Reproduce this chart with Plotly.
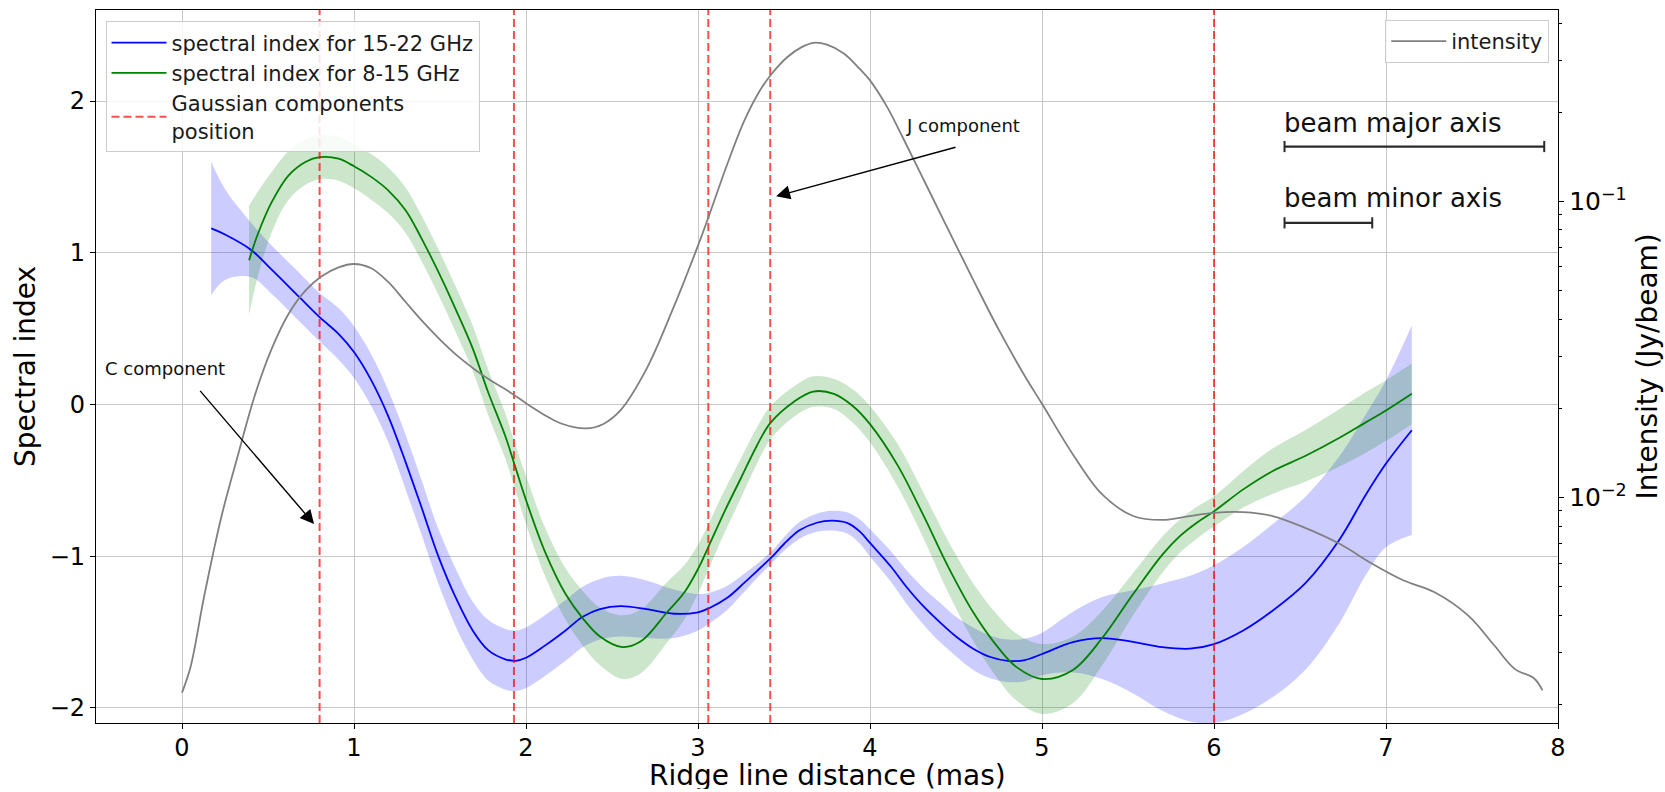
import numpy as np
import plotly.graph_objects as go

# ---------------- data ----------------
x_blue = [0.17, 0.25, 0.40, 0.52, 0.68, 0.80, 0.91, 1.00, 1.10, 1.20, 1.30, 1.39, 1.49, 1.59, 1.69, 1.78,
          1.88, 1.94, 2.00, 2.11, 2.23, 2.33, 2.43, 2.55, 2.70, 2.86, 3.00, 3.07, 3.17, 3.27, 3.36, 3.43,
          3.50, 3.59, 3.69, 3.78, 3.87, 3.94, 4.00, 4.12, 4.21, 4.31, 4.41, 4.50, 4.60, 4.70, 4.80, 4.90,
          5.00, 5.18, 5.35, 5.53, 5.70, 5.86, 6.00, 6.17, 6.34, 6.53, 6.73, 6.88, 7.00, 7.15]
alpha_15_22 = [1.16, 1.12, 1.02, 0.89, 0.71, 0.575, 0.465, 0.345, 0.16, -0.08, -0.38, -0.67, -1.00, -1.27, -1.49, -1.62,
               -1.68, -1.69, -1.67, -1.59, -1.49, -1.40, -1.35, -1.33, -1.35, -1.38, -1.37, -1.34, -1.275, -1.175, -1.08, -1.005,
               -0.92, -0.83, -0.78, -0.766, -0.782, -0.837, -0.913, -1.067, -1.20, -1.33, -1.44, -1.53, -1.61, -1.665, -1.69, -1.685,
               -1.645, -1.567, -1.54, -1.565, -1.60, -1.61, -1.58, -1.49, -1.36, -1.18, -0.89, -0.60, -0.39, -0.17]
err_15_22 = [0.44, 0.30, 0.18, 0.16, 0.16, 0.16, 0.17, 0.17, 0.17, 0.17, 0.18, 0.18, 0.18, 0.19, 0.19, 0.20,
             0.20, 0.20, 0.20, 0.20, 0.20, 0.20, 0.20, 0.20, 0.19, 0.16, 0.12, 0.10, 0.08, 0.06, 0.045, 0.04,
             0.045, 0.055, 0.06, 0.065, 0.07, 0.08, 0.09, 0.10, 0.11, 0.12, 0.13, 0.13, 0.14, 0.14, 0.14, 0.14,
             0.14, 0.20, 0.27, 0.34, 0.42, 0.48, 0.52, 0.55, 0.57, 0.57, 0.55, 0.53, 0.55, 0.69]

x_green = [0.39, 0.44, 0.52, 0.62, 0.72, 0.80, 0.91, 1.00, 1.10, 1.20, 1.30, 1.39, 1.49, 1.59, 1.69, 1.78,
           1.88, 1.94, 2.00, 2.11, 2.23, 2.33, 2.43, 2.56, 2.67, 2.82, 2.92, 3.00, 3.06, 3.15, 3.25, 3.34,
           3.42, 3.56, 3.67, 3.79, 3.90, 4.00, 4.16, 4.31, 4.45, 4.60, 4.75, 4.85, 5.00, 5.18, 5.35, 5.53,
           5.70, 5.80, 5.90, 6.00, 6.17, 6.34, 6.53, 6.73, 6.88, 7.00, 7.15]
alpha_8_15 = [0.95, 1.12, 1.33, 1.51, 1.60, 1.63, 1.62, 1.57, 1.50, 1.41, 1.28, 1.10, 0.875, 0.63, 0.37, 0.08,
              -0.21, -0.42, -0.63, -0.97, -1.25, -1.41, -1.53, -1.60, -1.56, -1.37, -1.24, -1.085, -0.94, -0.716, -0.485, -0.277,
              -0.123, 0.02, 0.085, 0.07, -0.01, -0.13, -0.40, -0.73, -1.06, -1.37, -1.61, -1.73, -1.81, -1.75, -1.54, -1.25,
              -0.99, -0.87, -0.78, -0.705, -0.56, -0.44, -0.34, -0.22, -0.12, -0.04, 0.07]
err_8_15 = [0.36, 0.28, 0.20, 0.16, 0.15, 0.145, 0.145, 0.145, 0.15, 0.15, 0.15, 0.15, 0.15, 0.15, 0.15, 0.15,
            0.15, 0.15, 0.16, 0.16, 0.17, 0.18, 0.19, 0.21, 0.21, 0.20, 0.18, 0.16, 0.15, 0.14, 0.13, 0.12,
            0.11, 0.10, 0.10, 0.10, 0.11, 0.12, 0.14, 0.15, 0.17, 0.19, 0.21, 0.22, 0.23, 0.22, 0.18, 0.14,
            0.12, 0.11, 0.105, 0.10, 0.12, 0.15, 0.17, 0.19, 0.20, 0.20, 0.20]

x_int = [0.00, 0.05, 0.13, 0.23, 0.33, 0.42, 0.52, 0.62, 0.72, 0.81, 0.91, 1.00, 1.10, 1.20, 1.30, 1.40,
         1.50, 1.60, 1.70, 1.80, 1.90, 2.00, 2.10, 2.20, 2.35, 2.45, 2.55, 2.70, 2.85, 3.00, 3.06, 3.17,
         3.27, 3.36, 3.43, 3.52, 3.60, 3.67, 3.75, 3.85, 3.94, 4.00, 4.10, 4.19, 4.31, 4.45, 4.60, 4.75,
         4.90, 5.00, 5.18, 5.35, 5.53, 5.70, 5.86, 6.00, 6.17, 6.34, 6.53, 6.73, 6.92, 7.10, 7.28, 7.48,
         7.63, 7.75, 7.86, 7.91]
intensity = [0.00219, 0.00268, 0.00467, 0.00865, 0.0142, 0.0218, 0.0316, 0.0417, 0.0501, 0.0557, 0.0598, 0.0614,
             0.0594, 0.0533, 0.0457, 0.0392, 0.0341, 0.0301, 0.0271, 0.0247, 0.0228, 0.0208, 0.0191, 0.0178,
             0.0171, 0.0177, 0.0197, 0.0271, 0.0427, 0.0708, 0.0881, 0.1334, 0.1875, 0.2366, 0.270, 0.307,
             0.331, 0.343, 0.338, 0.315, 0.280, 0.256, 0.208, 0.1645, 0.1189, 0.0813, 0.0543, 0.0367,
             0.0257, 0.0207, 0.01396, 0.01023, 0.00865, 0.00839, 0.00865, 0.00887, 0.00891, 0.00865, 0.00789, 0.00697,
             0.00597, 0.00525, 0.00479, 0.00398, 0.00316, 0.00263, 0.00245, 0.00223]

gauss_pos = [0.80, 1.93, 3.06, 3.42, 6.00]
beam_major = [6.41, 7.92]
beam_minor = [6.41, 6.92]
beam_major_y = 1.70
beam_minor_y = 1.197

x_range = [-0.5, 8]
y_range = [-2.1, 2.6]
y2_log_range = [-2.762, -0.354]

FONT = "DejaVu Sans"
BLUE = "#0000ff"
GREEN = "#008000"
SMOOTH = 1.0

fig = go.Figure()

# ---------------- bands ----------------
def band(x, y, e, fillcolor):
    y = np.array(y)
    e = np.array(e)
    fig.add_trace(go.Scatter(x=x, y=y - e, mode="lines", line=dict(width=0, shape="spline", smoothing=SMOOTH),
                             showlegend=False, hoverinfo="skip"))
    fig.add_trace(go.Scatter(x=x, y=y + e, mode="lines", line=dict(width=0, shape="spline", smoothing=SMOOTH),
                             fill="tonexty", fillcolor=fillcolor, showlegend=False, hoverinfo="skip"))

band(x_blue, alpha_15_22, err_15_22, "rgba(0,0,255,0.2)")
band(x_green, alpha_8_15, err_8_15, "rgba(0,128,0,0.2)")

# ---------------- lines ----------------
fig.add_trace(go.Scatter(x=x_blue, y=alpha_15_22, mode="lines", name="spectral index for 15-22 GHz",
                         line=dict(color=BLUE, width=1.8, shape="spline", smoothing=SMOOTH)))
fig.add_trace(go.Scatter(x=x_green, y=alpha_8_15, mode="lines", name="spectral index for 8-15 GHz",
                         line=dict(color=GREEN, width=1.8, shape="spline", smoothing=SMOOTH)))

gx, gy = [], []
for p in gauss_pos:
    gx += [p, p, None]
    gy += [y_range[0], y_range[1], None]
fig.add_trace(go.Scatter(x=gx, y=gy, mode="lines", name="Gaussian components<br>position",
                         line=dict(color="rgba(255,0,0,0.7)", width=2, dash="8px,4px")))

# beam bars
for bx, by in [(beam_major, beam_major_y), (beam_minor, beam_minor_y)]:
    fig.add_trace(go.Scatter(x=bx, y=[by, by], mode="lines+markers", showlegend=False, hoverinfo="skip",
                             line=dict(color="#2a2a2a", width=2.2),
                             marker=dict(symbol="line-ns-open", size=8, line=dict(color="#2a2a2a", width=2))))

# intensity
fig.add_trace(go.Scatter(x=x_int, y=intensity, mode="lines", name="intensity", yaxis="y2", legend="legend2",
                         line=dict(color="grey", width=1.8, shape="spline", smoothing=SMOOTH)))

# ---------------- annotations ----------------
ann_font = dict(family=FONT, size=18, color="#111")
fig.add_annotation(x=-0.096, y=0.24, xref="x", yref="y", text="C component", showarrow=False, font=ann_font)
fig.add_annotation(x=0.768, y=-0.789, ax=0.098, ay=0.099, xref="x", yref="y", axref="x", ayref="y",
                   text="", showarrow=True, arrowhead=2, arrowsize=2.0, arrowwidth=1.4, arrowcolor="black")
fig.add_annotation(x=4.538, y=1.84, xref="x", yref="y", text="J component", showarrow=False, font=ann_font)
fig.add_annotation(x=3.454, y=1.372, ax=4.506, ay=1.698, xref="x", yref="y", axref="x", ayref="y",
                   text="", showarrow=True, arrowhead=2, arrowsize=2.0, arrowwidth=1.4, arrowcolor="black")

beam_font = dict(family=FONT, size=26, color="#111")
fig.add_annotation(x=beam_major[0], y=1.852, xref="x", yref="y", text="beam major axis", showarrow=False,
                   xanchor="left", xshift=-3, font=beam_font)
fig.add_annotation(x=beam_minor[0], y=1.361, xref="x", yref="y", text="beam minor axis", showarrow=False,
                   xanchor="left", xshift=-3, font=beam_font)

# axis titles (placed in paper coordinates)
title_font = dict(family=FONT, size=28, color="black")
fig.add_annotation(x=0.5, y=-0.0728, xref="paper", yref="paper", text="Ridge line distance (mas)",
                   showarrow=False, font=title_font, yanchor="middle", height=28, borderpad=0)
fig.add_annotation(x=-0.0482, y=0.5, xref="paper", yref="paper", text="Spectral index",
                   showarrow=False, font=title_font, textangle=-90, xanchor="center")
fig.add_annotation(x=1.0609, y=0.5, xref="paper", yref="paper", text="Intensity (Jy/beam)",
                   showarrow=False, font=title_font, textangle=-90, xanchor="center")

# ---------------- layout ----------------
minor_vals = [m * 10.0 ** k for k in (-3, -2, -1) for m in range(2, 10)]

fig.update_layout(
    width=1665, height=792,
    margin=dict(l=96, r=107, t=10, b=69),
    paper_bgcolor="white", plot_bgcolor="white",
    font=dict(family=FONT, size=24, color="black"),
    xaxis=dict(range=x_range, tick0=0, dtick=1, showgrid=True, gridcolor="#c8c8c8", gridwidth=1,
               showline=True, linecolor="black", linewidth=1.3, mirror=True, ticks="outside", ticklen=5,
               ticklabelstandoff=-2,
               tickcolor="black", tickfont=dict(size=24), zeroline=False, automargin=False),
    yaxis=dict(range=y_range, tick0=0, dtick=1, showgrid=True, gridcolor="#c8c8c8", gridwidth=1,
               showline=True, linecolor="black", linewidth=1.3, mirror=True, ticks="outside", ticklen=5,
               tickcolor="black", tickfont=dict(size=24), zeroline=False, automargin=False),
    yaxis2=dict(overlaying="y", side="right", type="log", range=y2_log_range, showgrid=False,
                tickvals=[0.01, 0.1], ticktext=["10<sup>−2</sup>", "10<sup>−1</sup>"],
                ticks="outside", ticklen=5, tickcolor="black", tickfont=dict(size=25),
                showline=True, linecolor="black", linewidth=1.3, zeroline=False, automargin=False,
                minor=dict(tickvals=minor_vals, ticks="outside", ticklen=3, tickcolor="black", showgrid=False)),
    legend=dict(x=0.0065, y=0.984, xanchor="left", yanchor="top", bgcolor="rgba(255,255,255,0.85)",
                bordercolor="#cccccc", borderwidth=1, font=dict(size=21, color="#1a1a1a"),
                itemwidth=55, tracegroupgap=0, traceorder="normal"),
    legend2=dict(x=0.994, y=0.986, xanchor="right", yanchor="top", bgcolor="rgba(255,255,255,0.85)",
                 bordercolor="#cccccc", borderwidth=1, font=dict(size=21, color="#1a1a1a"), itemwidth=55),
)

fig.write_html("out.html", post_script="document.body.style.margin='0px';",
               config={"displayModeBar": False})
